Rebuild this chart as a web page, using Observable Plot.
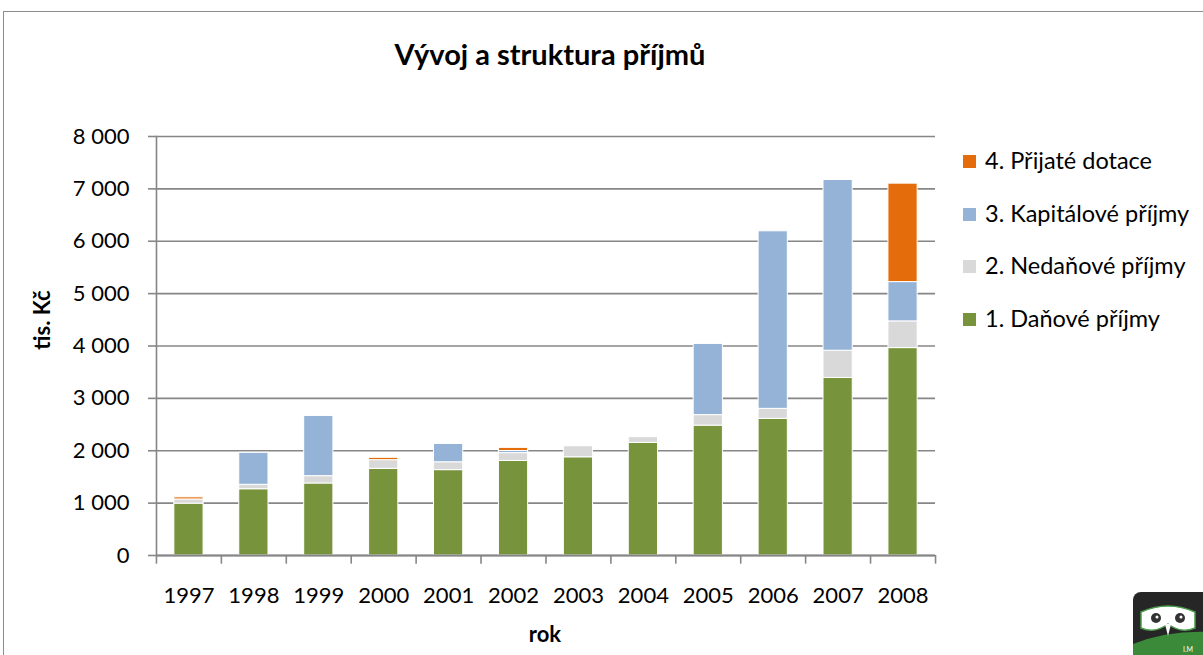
<!DOCTYPE html>
<html>
<head>
<meta charset="utf-8">
<script src="https://cdn.jsdelivr.net/npm/d3@7"></script>
<script src="https://cdn.jsdelivr.net/npm/@observablehq/plot@0.6"></script>
<style>
  html, body { margin: 0; padding: 0; background: #fff; }
  #wrap { position: relative; width: 1203px; height: 655px; overflow: hidden; font-family: Lato, sans-serif; }
  #wrap svg { position: absolute; left: 0; top: 0; }
  .frame { position: absolute; left: 3px; top: 11px; width: 1300px; height: 700px; border-top: 1px solid #8c8c8c; border-left: 1px solid #8c8c8c; }
  .title { position: absolute; left: 0; width: 1100px; top: 36px; text-align: center; font-weight: bold; font-size: 29px; color: #000; }
  .xlab { position: absolute; left: 445px; width: 200px; top: 620px; text-align: center; font-weight: bold; font-size: 22px; }
  .ylab { position: absolute; left: 41px; top: 320px; transform: translate(-50%, -50%) rotate(-90deg); font-weight: bold; font-size: 22px; white-space: nowrap; }
  .legend { position: absolute; left: 963px; top: 0; }
  .legend .item { position: absolute; left: 0; white-space: nowrap; font-size: 23.5px; line-height: 24px; transform: translateY(-50%); }
  .legend .sw { display: inline-block; width: 13px; height: 13px; margin-right: 9px; vertical-align: 1px; }
  .logo { position: absolute; left: 1133px; top: 592px; }
</style>
</head>
<body>
<div id="wrap">
  <div class="frame"></div>
</div>
<script>
const years = [1997, 1998, 1999, 2000, 2001, 2002, 2003, 2004, 2005, 2006, 2007, 2008];
const danovePrijmy     = [990, 1265, 1375, 1655, 1630, 1805, 1875, 2150, 2480, 2610, 3390, 3960];
const nedanovePrijmy   = [80, 85, 140, 165, 150, 150, 210, 110, 200, 190, 520, 510];
const kapitalovePrijmy = [0, 610, 1150, 0, 350, 40, 0, 0, 1360, 3390, 3260, 750];
const prijateDotace    = [40, 0, 0, 45, 0, 60, 0, 0, 0, 0, 0, 1880];
const seriesNames = ["1. Daňové příjmy", "2. Nedaňové příjmy", "3. Kapitálové příjmy", "4. Přijaté dotace"];
const seriesColors = ["#77933C", "#D9D9D9", "#95B3D7", "#E46C0A"];
const yTicks = [0, 1000, 2000, 3000, 4000, 5000, 6000, 7000, 8000];
const titleText = "Vývoj a struktura příjmů";
const xLabel = "rok";
const yLabel = "tis. Kč";

const seriesValues = [danovePrijmy, nedanovePrijmy, kapitalovePrijmy, prijateDotace];
const rows = [];
years.forEach((yr, i) => {
  seriesNames.forEach((s, j) => {
    const v = seriesValues[j][i];
    if (v > 0) rows.push({year: yr, series: s, value: v});
  });
});

const fmt = d => d3.format(",")(d).replace(/,/g, " ");
const grid = "#868686";

const chart = Plot.plot({
  width: 1203,
  height: 655,
  marginLeft: 156,
  marginRight: 268,
  marginTop: 136,
  marginBottom: 100,
  style: {fontFamily: "Lato, sans-serif", fontSize: "22px", color: "#000", background: "transparent", overflow: "visible"},
  x: {domain: years, paddingInner: 0.55, paddingOuter: 0.275, round: false, label: null},
  y: {domain: [0, 8000], label: null},
  color: {domain: seriesNames, range: seriesColors},
  marks: [
    Plot.gridY(yTicks, {stroke: grid, strokeOpacity: 1, strokeWidth: 1.6}),
    Plot.barY(rows, Plot.stackY({x: "year", y: "value", fill: "series", order: seriesNames, stroke: "white", strokeWidth: 1})),
    Plot.frame({anchor: "left", stroke: grid, strokeWidth: 1.6}),
    Plot.ruleY([0], {stroke: grid, strokeWidth: 2}),
    Plot.axisY(yTicks, {tickSize: 8, tickPadding: 19, tickFormat: fmt, stroke: grid, strokeWidth: 1.6, strokeOpacity: 1, label: null}),
    Plot.ruleX(years, {x: d => d, y1: 0, y2: -165, dx: -32.5, stroke: grid, strokeWidth: 1.6}),
    Plot.ruleX(years.slice(-1), {x: d => d, y1: 0, y2: -165, dx: 32.5, stroke: grid, strokeWidth: 1.6}),
    Plot.axisX({tickSize: 0, tickPadding: 32, tickFormat: d => String(d), label: null})
  ]
});
const wrap = document.getElementById("wrap");
wrap.appendChild(chart);

const t = document.createElement("div"); t.className = "title"; t.textContent = titleText; wrap.appendChild(t);
const xl = document.createElement("div"); xl.className = "xlab"; xl.textContent = xLabel; wrap.appendChild(xl);
const yl = document.createElement("div"); yl.className = "ylab"; yl.textContent = yLabel; wrap.appendChild(yl);

const lg = document.createElement("div"); lg.className = "legend";
const legendOrder = [3, 2, 1, 0];
const legendY = [160, 213, 265, 318];
legendOrder.forEach((j, k) => {
  const it = document.createElement("div"); it.className = "item"; it.style.top = legendY[k] + "px";
  const sw = document.createElement("span"); sw.className = "sw"; sw.style.background = seriesColors[j];
  it.appendChild(sw); it.appendChild(document.createTextNode(seriesNames[j]));
  lg.appendChild(it);
});
wrap.appendChild(lg);

// decorative logo
const logo = document.createElement("div"); logo.className = "logo";
logo.innerHTML = `<svg width="70" height="63" viewBox="0 0 70 63">
  <rect x="0" y="0" width="78" height="70" rx="8" fill="#262626"/>
  <path d="M0 52 Q35 38 78 40 L78 70 L0 70 Z" fill="#3a8a3a"/>
  <path d="M8 20 Q35 8 62 20 L62 36 Q48 42 35 32 Q22 42 8 36 Z" fill="#fff" stroke="#4a9a4a" stroke-width="1.5"/>
  <circle cx="23" cy="26" r="5" fill="#333"/><circle cx="47" cy="26" r="5" fill="#333"/>
  <circle cx="24" cy="25" r="1.5" fill="#fff"/><circle cx="48" cy="25" r="1.5" fill="#fff"/>
  <path d="M32 32 L35 44 L38 32 Z" fill="#fff"/>
  <text x="50" y="60" fill="#fff" font-size="7" font-family="Lato">I.M</text>
</svg>`;
wrap.appendChild(logo);
</script>
</body>
</html>
